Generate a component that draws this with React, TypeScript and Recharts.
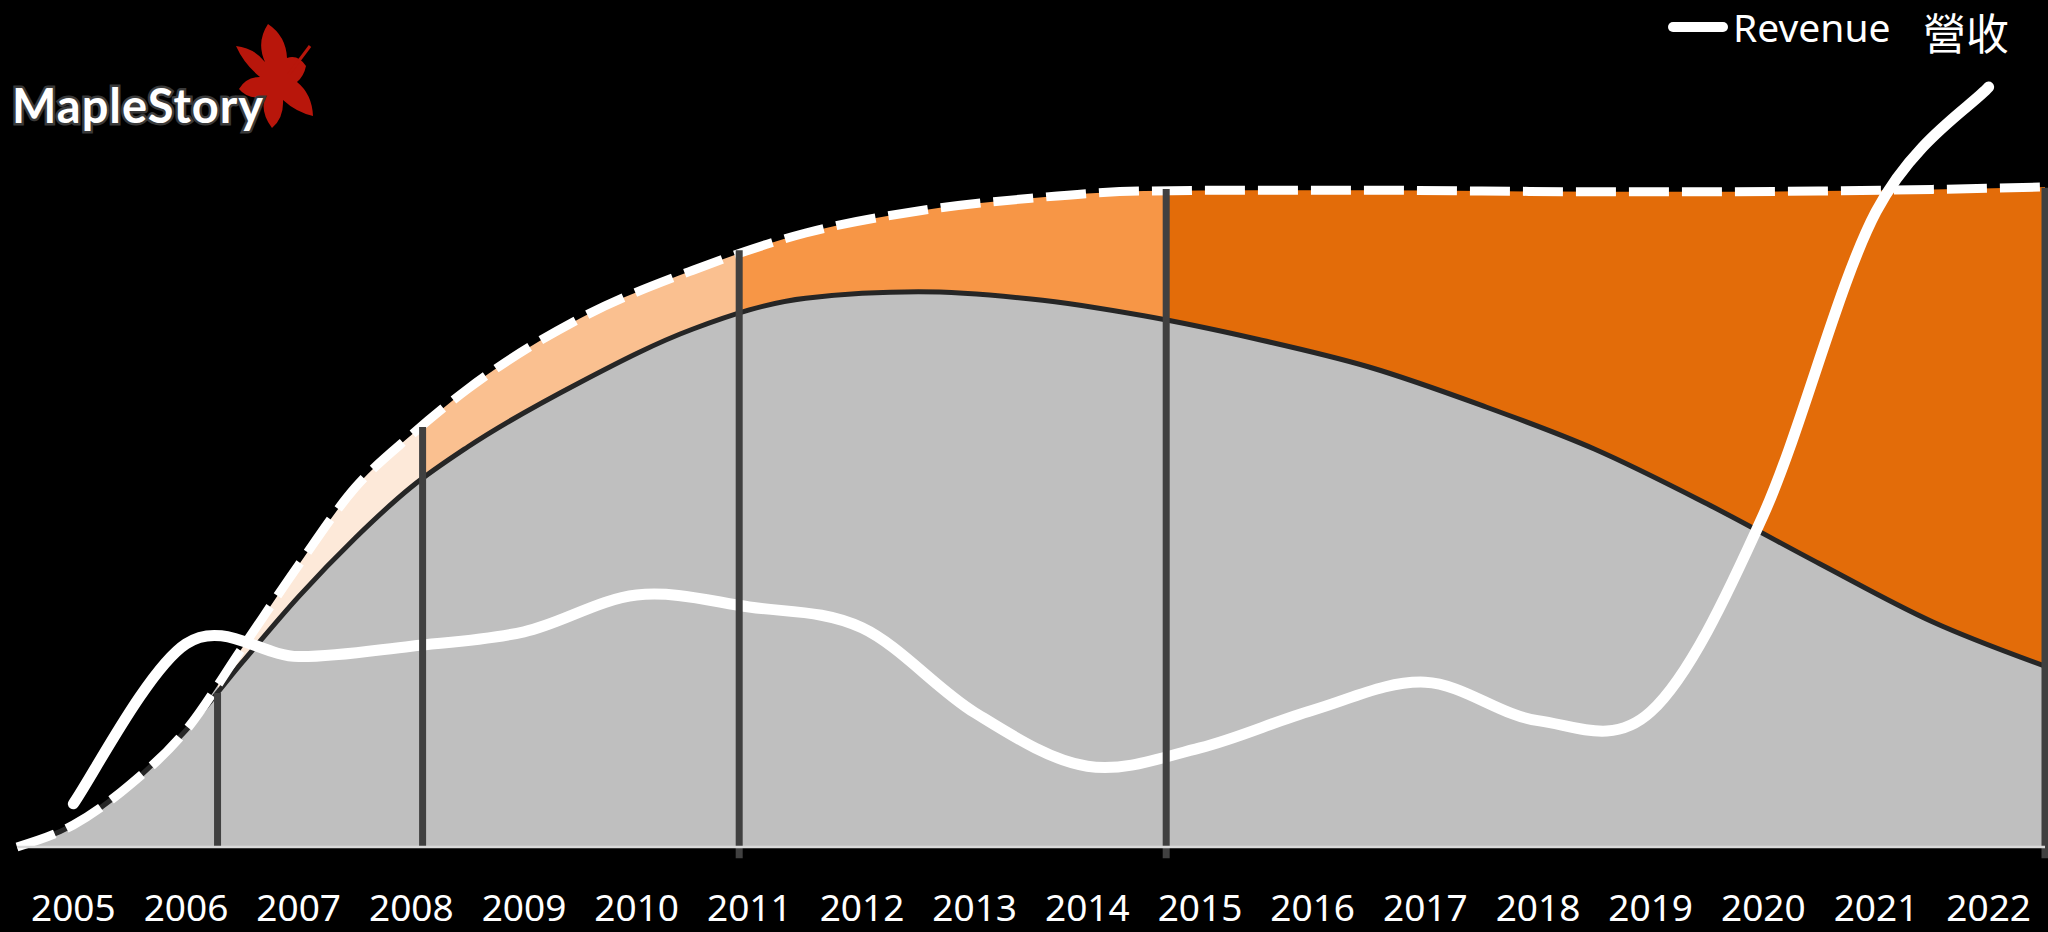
import React from "react";
import {
  ComposedChart,
  Area,
  Line,
  XAxis,
  YAxis,
  Legend,
  ReferenceLine,
} from "recharts";

// year labels, one per band
const YEARS = [
  "2005", "2006", "2007", "2008", "2009", "2010", "2011", "2012", "2013",
  "2014", "2015", "2016", "2017", "2018", "2019", "2020", "2021", "2022",
];

// revenue, sampled at the centre of each year band
const REVENUE = [
  5.4, 25.4, 23.8, 25.1, 26.9, 31.5, 30.0, 27.4, 16.8,
  10.1, 12.4, 17.1, 20.6, 15.8, 16.9, 41.5, 79.4, 95.0,
];

// position (in years since start of 2005) of the area samples
const CURVE_T = [0, 0.5, 1, 1.5, 2, 2.5, 3, 3.5, 4, 5, 6, 7, 8, 9, 10, 11, 12, 13, 14, 15, 16, 17, 18];

// total (dashed white outline)
const TOTAL = [
  0, 2.75, 7.75, 14.6, 24.9, 35.25, 44.9, 51.5, 57.25, 66.1, 72.1, 76.75,
  79.5, 81.1, 82.0, 82.1, 82.1, 82.0, 81.9, 81.9, 82.0, 82.2, 82.5,
];

// grey part under the black outline
const CORE = [
  0, 2.75, 7.75, 14.6, 23.1, 31.3, 38.6, 45.0, 50.0, 58.1, 64.75, 68.6,
  69.4, 68.5, 66.4, 63.5, 60.0, 55.2, 49.75, 42.9, 35.4, 28.15, 22.6,
];

// era markers: position, top value, foot value
const EVENT_T = [1.78, 3.6, 6.41, 10.2, 18];
const EVENT_TOP = [19.25, 52.5, 74.6, 82.25, 82.4];
const EVENT_FOOT = [0, 0, -1.4, -1.4, -1.4];

// band colours between the markers (first one sits under the grey)
const BAND_COLORS = ["#bfbfbf", "#fde9d9", "#fac090", "#f79646", "#e36c09"];

const SPAN = 18;

function buildRows() {
  const rows = new Map<number, any>();
  const get = (t: number) => {
    if (!rows.has(t)) rows.set(t, { t });
    return rows.get(t);
  };
  CURVE_T.forEach((t, i) => {
    const r = get(t);
    r.total = TOTAL[i];
    r.core = CORE[i];
  });
  REVENUE.forEach((v, i) => {
    get(i + 0.5).revenue = v;
  });
  return Array.from(rows.values()).sort((a, b) => a.t - b.t);
}

const data = buildRows();

// Excel-like smoothed line (Catmull-Rom as cubic beziers)
function excelSmooth(context: any) {
  let pts: number[][] = [];
  return {
    areaStart() {},
    areaEnd() {},
    lineStart() {
      pts = [];
    },
    point(x: number, y: number) {
      pts.push([+x, +y]);
    },
    lineEnd() {
      const n = pts.length;
      if (!n) return;
      context.moveTo(pts[0][0], pts[0][1]);
      if (n === 1) return;
      const k = 1 / 6;
      for (let i = 0; i < n - 1; i++) {
        const p0 = pts[Math.max(0, i - 1)];
        const p1 = pts[i];
        const p2 = pts[i + 1];
        const p3 = pts[Math.min(n - 1, i + 2)];
        context.bezierCurveTo(
          p1[0] + (p2[0] - p0[0]) * k,
          p1[1] + (p2[1] - p0[1]) * k,
          p2[0] - (p3[0] - p1[0]) * k,
          p2[1] - (p3[1] - p1[1]) * k,
          p2[0],
          p2[1]
        );
      }
    },
  };
}

function bandStops() {
  const edges = [0, ...EVENT_T.slice(0, 4).map((t) => t / SPAN), 1];
  const stops: React.ReactNode[] = [];
  BAND_COLORS.forEach((c, i) => {
    stops.push(<stop key={`a${i}`} offset={edges[i]} stopColor={c} />);
    stops.push(<stop key={`b${i}`} offset={edges[i + 1]} stopColor={c} />);
  });
  return stops;
}

function RevenueLegend(props: any) {
  const item = (props.payload || []).find((p: any) => p.dataKey === "revenue");
  const label = item ? String(item.value) : "Revenue 營收";
  const [en, zh] = label.split(" ");
  return (
    <svg width={384} height={64} style={{ display: "block" }}>
      <line x1={13} y1={27} x2={63} y2={27} stroke="#fff" strokeWidth={10} strokeLinecap="round" />
      <text x={73} y={42} fill="#fff" fontSize={39} fontFamily="'Noto Sans', sans-serif">
        {en}
      </text>
      <text x={263} y={50} fill="#fff" fontSize={43} fontFamily="'Noto Sans CJK TC', sans-serif">
        {zh}
      </text>
    </svg>
  );
}

function MapleLogo() {
  return (
    <svg
      width={330}
      height={160}
      style={{ position: "absolute", left: 0, top: 0, pointerEvents: "none" }}
    >
      <path
        d="M265 62 Q256 42 268 24 Q286 36 287 58 Q298 54 306 66 Q304 76 297 82 Q312 94 313 116 Q296 112 283 100 Q284 118 272 128 Q260 112 265 97 Q248 100 239 89 Q246 77 260 77 Q244 64 236 46 Q254 48 265 62 Z"
        fill="#b8160b"
      />
      <line x1={289} y1={74} x2={310} y2={46} stroke="#b8160b" strokeWidth={3} />
      <text
        x={12}
        y={123}
        fill="#fff"
        stroke="#3a3a3a"
        strokeWidth={5}
        paintOrder="stroke"
        fontSize={47}
        fontWeight={700}
        letterSpacing={1}
        fontFamily="Lato, sans-serif"
      >
        MapleStory
      </text>
    </svg>
  );
}

export default function App() {
  return (
    <div
      style={{
        position: "absolute",
        left: 0,
        top: 0,
        width: 2048,
        height: 932,
        background: "#000",
        overflow: "hidden",
      }}
    >
      <ComposedChart
        width={2048}
        height={932}
        data={data}
        margin={{ top: 47, right: 3, left: 17, bottom: 25 }}
      >
        <defs>
          <linearGradient id="bandFill" x1="0" y1="0" x2="1" y2="0">
            {bandStops()}
          </linearGradient>
        </defs>
        <XAxis
          dataKey="t"
          type="number"
          domain={[0, SPAN]}
          ticks={YEARS.map((_, i) => i + 0.5)}
          interval={0}
          tickFormatter={(v) => YEARS[Math.floor(v)]}
          tickLine={false}
          tickSize={0}
          tickMargin={48}
          height={60}
          axisLine={{ stroke: "#d9d9d9", strokeWidth: 2.5 }}
          tick={{ fill: "#fff", fontSize: 37, fontFamily: "'Noto Sans', sans-serif" }}
        />
        <YAxis hide domain={[0, 100]} />
        <Legend
          layout="horizontal"
          verticalAlign="middle"
          align="center"
          wrapperStyle={{ top: 0, left: 1660, width: 384, height: 64 }}
          content={RevenueLegend}
        />
        <Area
          dataKey="total"
          type="monotone"
          connectNulls
          stroke="none"
          fill="url(#bandFill)"
          fillOpacity={1}
          isAnimationActive={false}
          legendType="none"
        />
        <Area
          dataKey="core"
          type="monotone"
          connectNulls
          stroke="#262626"
          strokeWidth={5}
          fill="#bfbfbf"
          fillOpacity={1}
          isAnimationActive={false}
          legendType="none"
        />
        <Line
          dataKey="total"
          type="monotone"
          connectNulls
          stroke="#fff"
          strokeWidth={9}
          strokeDasharray="40 13"
          dot={false}
          activeDot={false}
          isAnimationActive={false}
          legendType="none"
        />
        <Line
          dataKey="revenue"
          name="Revenue 營收"
          type={excelSmooth as any}
          connectNulls
          stroke="#fff"
          strokeWidth={11}
          strokeLinecap="round"
          dot={false}
          activeDot={false}
          isAnimationActive={false}
        />
        {EVENT_T.map((t, i) => (
          <ReferenceLine
            key={t}
            segment={[
              { x: t, y: EVENT_FOOT[i] },
              { x: t, y: EVENT_TOP[i] },
            ]}
            stroke="#404040"
            strokeWidth={7}
            ifOverflow="visible"
            zIndex={450}
          />
        ))}
      </ComposedChart>
      <MapleLogo />
    </div>
  );
}
